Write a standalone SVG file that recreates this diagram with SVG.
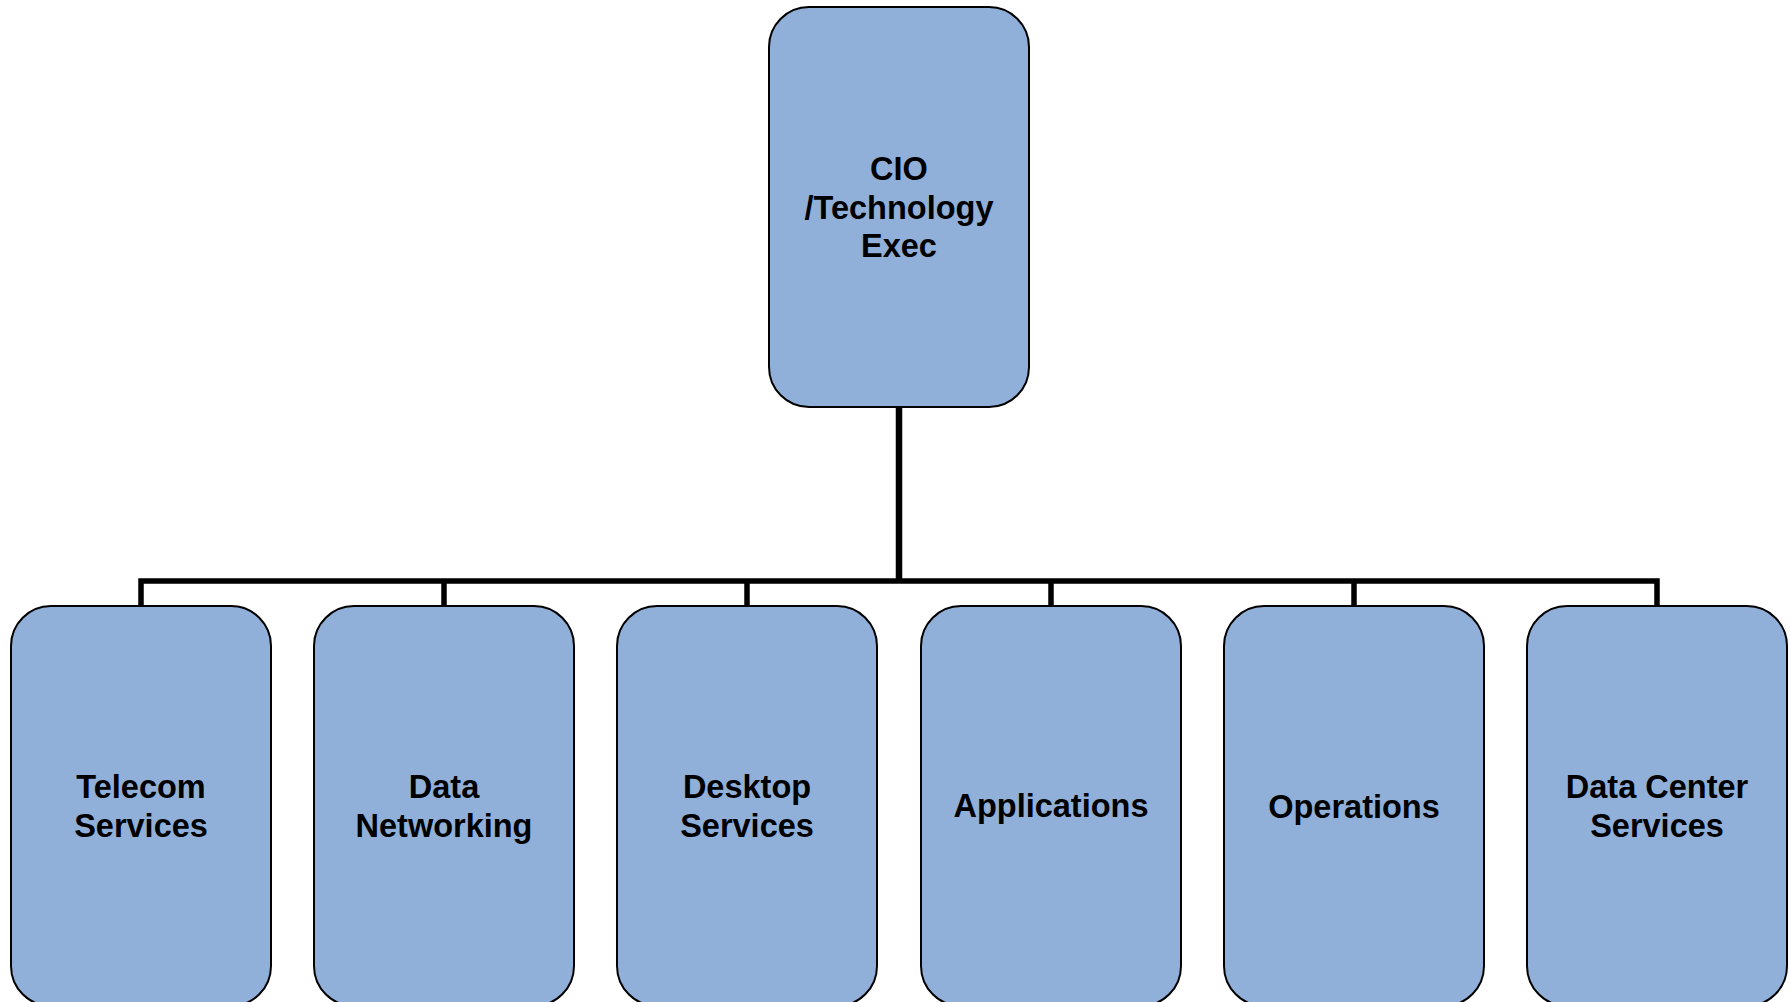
<svg xmlns="http://www.w3.org/2000/svg" width="1791" height="1002" viewBox="0 0 1791 1002">
<style>
.box{fill:#91B0D9;stroke:#000;stroke-width:2}
.lbl{font-family:"Liberation Sans",Arial,sans-serif;font-weight:bold;font-size:32.5px;fill:#000;text-anchor:middle}
.con{fill:none;stroke:#000;stroke-width:5.5;stroke-linejoin:miter;stroke-linecap:butt}
</style>
<rect width="1791" height="1002" fill="#fff"/>
<g id="connectors">
<path class="con" d="M899,407 V581" style="stroke-width:6.5"/>
<path class="con" d="M141,606 V581 H1657 V606"/>
<path class="con" d="M444,606 V581"/>
<path class="con" d="M747,606 V581"/>
<path class="con" d="M1051,606 V581"/>
<path class="con" d="M1354,606 V581"/>
</g>
<g id="cio">
<rect class="box" x="769" y="7" width="260" height="400" rx="40" ry="40"/>
<text class="lbl" x="899" y="180">CIO</text>
<text class="lbl" x="899" y="218.5">/Technology</text>
<text class="lbl" x="899" y="257">Exec</text>
</g>
<g id="telecom">
<rect class="box" x="11" y="606" width="260" height="400" rx="40" ry="40"/>
<text class="lbl" x="141" y="798">Telecom</text>
<text class="lbl" x="141" y="837">Services</text>
</g>
<g id="datanet">
<rect class="box" x="314" y="606" width="260" height="400" rx="40" ry="40"/>
<text class="lbl" x="444" y="798">Data</text>
<text class="lbl" x="444" y="837">Networking</text>
</g>
<g id="desktop">
<rect class="box" x="617" y="606" width="260" height="400" rx="40" ry="40"/>
<text class="lbl" x="747" y="798">Desktop</text>
<text class="lbl" x="747" y="837">Services</text>
</g>
<g id="applications">
<rect class="box" x="921" y="606" width="260" height="400" rx="40" ry="40"/>
<text class="lbl" x="1051" y="817">Applications</text>
</g>
<g id="operations">
<rect class="box" x="1224" y="606" width="260" height="400" rx="40" ry="40"/>
<text class="lbl" x="1354" y="818">Operations</text>
</g>
<g id="datacenter">
<rect class="box" x="1527" y="606" width="260" height="400" rx="40" ry="40"/>
<text class="lbl" x="1657" y="798">Data Center</text>
<text class="lbl" x="1657" y="837">Services</text>
</g>
</svg>
